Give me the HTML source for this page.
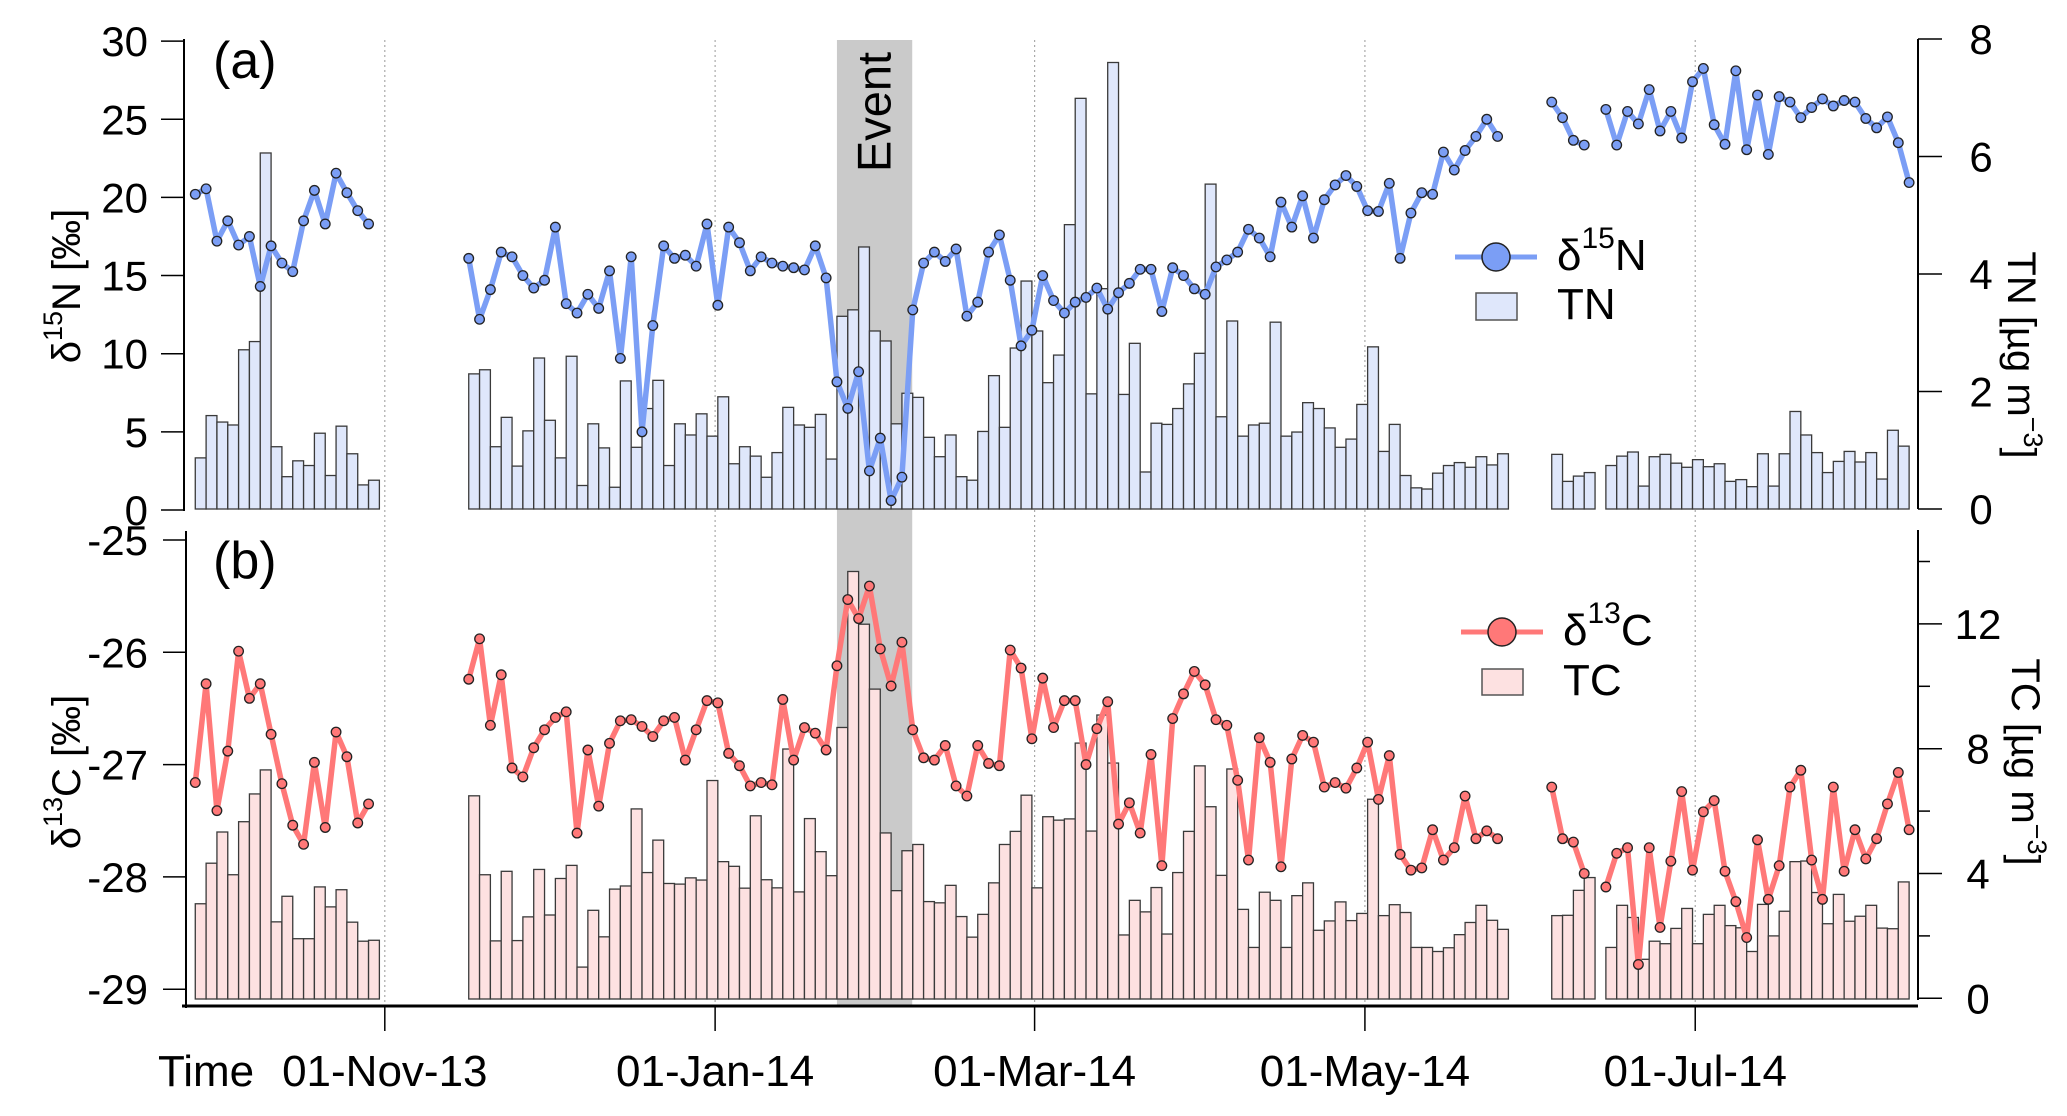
<!DOCTYPE html>
<html><head><meta charset="utf-8"><style>
html,body{margin:0;padding:0;background:#fff}
svg{display:block;font-family:"Liberation Sans",Arial,sans-serif}
</style></head><body>
<svg id="chart" width="2067" height="1116" viewBox="0 0 2067 1116" xmlns="http://www.w3.org/2000/svg"></svg>
<script>
// ---- data (samples every 2 days; segment start = day offset from 01-Nov-13) ----
const segStartDays = [-35, 15.5, 215.5, 225.5];
const sampleStepDays = 2;
const d15N_s1 = [20.2,20.55,17.2,18.5,16.95,17.5,14.3,16.9,15.8,15.25,18.5,20.45,18.3,21.55,20.3,19.15,18.3];
const d15N_s2 = [16.1,12.2,14.1,16.5,16.2,15.0,14.2,14.7,18.1,13.2,12.6,13.8,12.9,15.3,9.7,16.2,5.0,11.8,16.9,16.1,16.3,15.6,18.3,13.1,18.1,17.1,15.3,16.2,15.8,15.6,15.5,
 15.36,16.9,14.85,8.2,6.5,8.85,2.5,4.6,0.6,2.1,12.8,15.8,16.5,15.9,16.7,12.4,13.3,16.5,17.6,14.7,10.5,11.5,15.0,13.4,12.6,13.3,13.6,14.2,12.85,13.9,14.5,15.4,15.4,12.7,15.5,15.0,14.15,13.8,15.55,16.0,16.5,17.96,17.4,16.2,19.7,18.1,20.1,17.4,19.85,20.8,21.4,20.7,19.15,19.1,20.9,
 16.1,19.0,20.3,20.2,22.9,21.75,23.0,23.9,25.0,23.9];
const d15N_s3 = [26.1,25.1,23.65,23.35];
const d15N_s4 = [25.63,23.35,25.5,24.7,26.9,24.25,25.5,23.8,27.4,28.25,24.65,23.4,28.1,23.05,26.55,22.75,26.45,26.1,25.1,25.75,26.3,25.85,26.2,26.1,25.05,24.45,25.15,23.5,20.95];
const TN_s1 = [0.87,1.59,1.48,1.43,2.71,2.85,6.06,1.06,0.55,0.82,0.74,1.29,0.57,1.41,0.94,0.41,0.49];
const TN_s2 = [2.30,2.37,1.06,1.56,0.73,1.33,2.57,1.51,0.87,2.60,0.40,1.45,1.04,0.37,2.18,1.05,1.71,2.19,0.74,1.45,1.26,1.62,1.24,1.91,0.77,1.06,0.90,0.54,0.96,1.73,1.43,
 1.39,1.61,0.85,3.28,3.39,4.46,3.03,2.86,1.45,1.97,1.90,1.22,0.89,1.26,0.55,0.49,1.32,2.27,1.39,2.74,3.88,3.03,2.15,2.62,4.84,6.99,1.96,3.75,7.60,1.95,2.82,0.63,1.46,1.44,1.71,2.13,2.65,5.53,1.57,3.20,1.24,1.43,1.46,3.18,1.24,1.31,1.81,1.71,1.38,1.05,1.19,1.78,2.76,0.98,1.44,
 0.57,0.36,0.34,0.61,0.74,0.79,0.71,0.89,0.75,0.94];
const TN_s3 = [0.93,0.47,0.56,0.62];
const TN_s4 = [0.74,0.90,0.97,0.39,0.89,0.93,0.78,0.71,0.84,0.72,0.77,0.47,0.50,0.38,0.94,0.39,0.94,1.66,1.26,0.96,0.62,0.81,0.98,0.80,0.96,0.51,1.34,1.07];
const d13C_s1 = [-27.16,-26.28,-27.41,-26.88,-25.99,-26.41,-26.28,-26.73,-27.17,-27.54,-27.71,-26.98,-27.56,-26.71,-26.93,-27.52,-27.35];
const d13C_s2 = [-26.24,-25.88,-26.65,-26.20,-27.03,-27.11,-26.85,-26.69,-26.58,-26.53,-27.61,-26.87,-27.37,-26.81,-26.61,-26.60,-26.66,-26.75,-26.61,-26.58,-26.96,-26.69,-26.43,-26.45,-26.90,-27.01,-27.19,-27.16,-27.18,-26.42,-26.96,
 -26.67,-26.72,-26.87,-26.12,-25.53,-25.70,-25.41,-25.97,-26.30,-25.91,-26.69,-26.94,-26.96,-26.83,-27.19,-27.28,-26.83,-26.99,-27.01,-25.98,-26.14,-26.77,-26.23,-26.67,-26.43,-26.43,-27.00,-26.68,-26.44,-27.53,-27.34,-27.61,-26.91,-27.90,-26.59,-26.37,-26.17,-26.29,-26.60,-26.65,-27.14,-27.85,-26.76,-26.98,-27.91,-26.95,-26.74,-26.80,-27.20,-27.16,-27.21,-27.03,-26.80,-27.31,-26.92,-27.80,
 -27.94,-27.92,-27.58,-27.85,-27.74,-27.28,-27.66,-27.59,-27.66];
const d13C_s3 = [-27.20,-27.66,-27.69,-27.97];
const d13C_s4 = [-28.09,-27.79,-27.74,-28.78,-27.74,-28.45,-27.86,-27.24,-27.94,-27.42,-27.32,-27.95,-28.22,-28.54,-27.67,-28.20,-27.90,-27.20,-27.05,-27.85,-28.20,-27.20,-27.95,-27.58,-27.84,-27.66,-27.35,-27.07,-27.58];
const TC_s1 = [3.03,4.33,5.33,3.96,5.66,6.55,7.32,2.45,3.27,1.91,1.91,3.57,2.93,3.48,2.44,1.83,1.86];
const TC_s2 = [6.49,3.96,1.84,4.07,1.85,2.61,4.13,2.67,3.84,4.26,1.00,2.82,1.97,3.50,3.60,6.07,4.03,5.07,3.68,3.66,3.86,3.79,6.98,4.38,4.23,3.53,5.85,3.80,3.54,7.99,3.41,
 5.76,4.70,3.93,8.68,13.68,11.99,9.91,5.30,3.45,4.73,4.93,3.10,3.06,3.62,2.62,1.96,2.69,3.70,4.93,5.35,6.51,3.54,5.82,5.71,5.75,8.18,5.36,9.08,7.54,2.03,3.14,2.77,3.55,2.06,4.03,5.35,7.45,6.14,3.94,7.35,2.85,1.63,3.40,3.14,1.63,3.29,3.70,2.18,2.48,3.09,2.49,2.72,6.38,2.65,3.00,
 2.75,1.63,1.63,1.50,1.62,2.04,2.43,2.98,2.50,2.21];
const TC_s3 = [2.65,2.66,3.46,3.87];
const TC_s4 = [1.63,2.98,2.59,1.25,1.83,1.75,2.24,2.88,1.75,2.69,2.98,2.33,2.26,1.50,3.01,2.00,2.79,4.38,4.40,3.39,2.39,3.33,2.47,2.63,2.98,2.25,2.23,3.73];
const dateTickDays = [0, 61, 120, 181, 242];
const dateTickLabels = ["01-Nov-13","01-Jan-14","01-Mar-14","01-May-14","01-Jul-14"];
const eventDays = [83.5, 97.4];
const d15NTicks = [0,5,10,15,20,25,30];
const TNTicks = [0,2,4,6,8];
const d13CTicks = [-29,-28,-27,-26,-25];
const TCTicks = [0,2,4,6,8,10,12,14];
const TCLabelTicks = [0,4,8,12];

// ---- scales ----
const xDay = d => 384.8 + d*5.415;
const yN = v => 510 - v*15.63;
const yTN = v => 509 - v*58.75;
const yC13 = v => 540 + (-25 - v)*112.3;
const yTC = v => 998.3 - v*31.2;

const NS = "http://www.w3.org/2000/svg";
const svg = document.getElementById('chart');
function mk(tag, attrs, parent){ const e=document.createElementNS(NS,tag); for(const k in attrs) e.setAttribute(k,attrs[k]); (parent||svg).appendChild(e); return e; }

const ev = mk('rect',{x:xDay(eventDays[0]),y:40,width:xDay(eventDays[1])-xDay(eventDays[0]),height:966,fill:'#cacaca'});


const evt = mk('text',{x:0,y:0,'font-size':47,fill:'#000','text-anchor':'middle',transform:`translate(${(xDay(eventDays[0])+xDay(eventDays[1]))/2+16},112) rotate(-90)`});
evt.textContent='Event';



dateTickDays.forEach((d,i)=>{
  const g = mk('line',{x1:xDay(d),x2:xDay(d),y1:40,y2:1005,stroke:'#aaa','stroke-width':1.2,'stroke-dasharray':'2,3'});
  
  
});

const segsN=[d15N_s1,d15N_s2,d15N_s3,d15N_s4], segsTN=[TN_s1,TN_s2,TN_s3,TN_s4];
const segsC=[d13C_s1,d13C_s2,d13C_s3,d13C_s4], segsTC=[TC_s1,TC_s2,TC_s3,TC_s4];

function drawBars(segs, ys, base, fill, name){
  const g = mk('g',{});
  
  
  segs.forEach((arr,s)=>arr.forEach((v,i)=>{
    const d = segStartDays[s]+i*sampleStepDays;
    const x0=xDay(d), x1=xDay(d+sampleStepDays);
    const r = mk('rect',{x:x0,y:ys(v),width:x1-x0,height:base-ys(v),fill:fill,stroke:'#3a3a3a','stroke-width':1.3},g);
    
    
  }));
}
function drawLine(segs, ys, color, name){
  const g = mk('g',{});
  
  
  segs.forEach((arr,s)=>{
    const pts = arr.map((v,i)=>xDay(segStartDays[s]+i*sampleStepDays).toFixed(1)+','+ys(v).toFixed(1)).join(' ');
    const pl = mk('polyline',{points:pts,fill:'none',stroke:color,'stroke-width':5.5,'stroke-linejoin':'round'},g);
    
    
  });
  segs.forEach((arr,s)=>arr.forEach((v,i)=>{
    const c = mk('circle',{cx:xDay(segStartDays[s]+i*sampleStepDays),cy:ys(v),r:4.8,fill:color,stroke:'#222','stroke-width':1.3},g);
    
    
  }));
}
drawBars(segsTN, yTN, 509, '#dfe7fb', 'tn');
drawLine(segsN, yN, '#7b9ef5', 'd15n');
drawBars(segsTC, yTC, 999, '#fde1e1', 'tc');
drawLine(segsC, yC13, '#ff7878', 'd13c');

function axisLine(x1,y1,x2,y2,name,w){ const l=mk('line',{x1,y1,x2,y2,stroke:'#000','stroke-width':w||2});   }
axisLine(184,39,184,511,'left-axis-a');
axisLine(186,531,186,1008,'left-axis-b');
axisLine(1918,39,1918,509,'right-axis-a');
axisLine(1918,530,1918,1000,'right-axis-b');
axisLine(182,1006,1918,1006,'x-axis',3);

d15NTicks.forEach(v=>{
  axisLine(161,yN(v),184,yN(v),'d15n-tick',1.5);
  const t=mk('text',{x:148,y:yN(v)+15,'font-size':42,'text-anchor':'end'}); t.textContent=v;
   
});
d13CTicks.forEach(v=>{
  axisLine(163,yC13(v),186,yC13(v),'d13c-tick',1.5);
  const t=mk('text',{x:148,y:yC13(v)+15,'font-size':42,'text-anchor':'end'}); t.textContent=v;
   
});
TNTicks.forEach(v=>{
  axisLine(1918,yTN(v),1942,yTN(v),'tn-tick',1.5);
  const t=mk('text',{x:1981,y:yTN(v)+15,'font-size':42,'text-anchor':'middle'}); t.textContent=v;
   
});
TCTicks.forEach(v=>{
  const major = TCLabelTicks.includes(v);
  axisLine(1918,yTC(v),major?1942:1930,yTC(v),'tc-tick',1.5);
});
TCLabelTicks.forEach(v=>{
  const t=mk('text',{x:1978,y:yTC(v)+15,'font-size':42,'text-anchor':'middle'}); t.textContent=v;
   
});
dateTickDays.forEach((d,i)=>{
  axisLine(xDay(d),1006,xDay(d),1031,'date-tick',1.5);
  const t=mk('text',{x:xDay(d),y:1086,'font-size':44,'text-anchor':'middle'}); t.textContent=dateTickLabels[i];
   
});
</script>
<script>
const s2 = document.getElementById('chart');
s2.insertAdjacentHTML('beforeend', `
<text x="158" y="1086" font-size="44">Time</text>
<text x="213" y="78" font-size="52">(a)</text>
<text x="213" y="578" font-size="52">(b)</text>
<text transform="translate(80,286) rotate(-90)" font-size="40" text-anchor="middle">δ<tspan font-size="27" dy="-18">15</tspan><tspan dy="18">N [‰]</tspan></text>
<text transform="translate(80,772) rotate(-90)" font-size="40" text-anchor="middle">δ<tspan font-size="27" dy="-18">13</tspan><tspan dy="18">C [‰]</tspan></text>
<text transform="translate(2008,355) rotate(90)" font-size="40" text-anchor="middle">TN [µg m<tspan font-size="27" dy="-16">−3</tspan><tspan dy="16">]</tspan></text>
<text transform="translate(2012,762) rotate(90)" font-size="40" text-anchor="middle">TC [µg m<tspan font-size="27" dy="-16">−3</tspan><tspan dy="16">]</tspan></text>
<g>
  <line x1="1455" y1="257" x2="1537" y2="257" stroke="#7b9ef5" stroke-width="5"/>
  <circle cx="1496" cy="257" r="14" fill="#7b9ef5" stroke="#222" stroke-width="1.5"/>
  <text x="1557" y="270" font-size="44">δ<tspan font-size="30" dy="-22">15</tspan><tspan dy="22">N</tspan></text>
  <rect x="1476" y="293" width="41" height="27" fill="#dfe7fb" stroke="#555" stroke-width="1.5"/>
  <text x="1557" y="319" font-size="44">TN</text>
</g>
<g>
  <line x1="1461" y1="632" x2="1543" y2="632" stroke="#ff7878" stroke-width="5"/>
  <circle cx="1502" cy="632" r="14" fill="#ff7878" stroke="#222" stroke-width="1.5"/>
  <text x="1563" y="645" font-size="44">δ<tspan font-size="30" dy="-22">13</tspan><tspan dy="22">C</tspan></text>
  <rect x="1482" y="669" width="41" height="26" fill="#fde1e1" stroke="#555" stroke-width="1.5"/>
  <text x="1563" y="695" font-size="44">TC</text>
</g>`);
</script>
</body></html>
